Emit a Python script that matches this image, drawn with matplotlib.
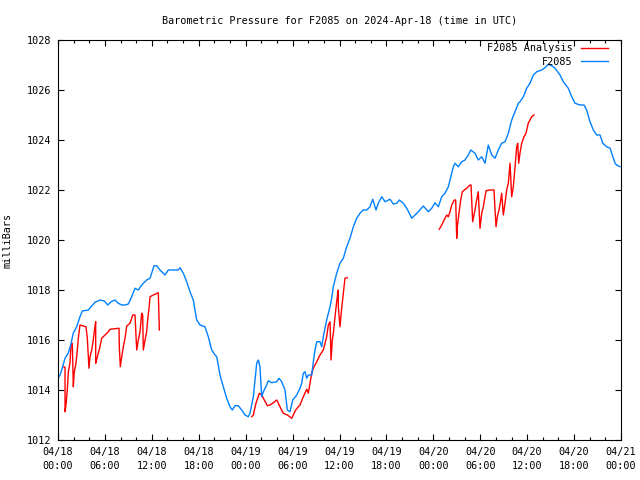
import numpy as np
import matplotlib
matplotlib.use("Agg")
from matplotlib import pyplot as plt
from matplotlib.ticker import MultipleLocator
from datetime import datetime, timedelta

# hours since 2024-04-18 00:00 UTC, pressure in mb
obs_hours = [0.00, 0.26, 0.47, 0.90, 1.32, 1.62, 1.96, 2.39, 2.81, 3.11, 3.88, 4.22, 4.73, 5.37,
             5.92, 6.36, 6.78, 7.29, 7.71, 8.15, 8.57, 8.99, 9.34, 9.85, 10.27, 10.70, 11.34,
             11.77, 12.28, 12.62, 13.04, 13.68, 14.11, 15.39, 15.60, 16.03, 16.46, 16.88, 17.30,
             17.74, 18.16, 18.80, 19.22, 19.66, 20.08, 20.30, 20.72, 21.14, 21.57, 22.00, 22.29,
             22.64, 23.06, 23.49, 23.92, 24.34, 24.55, 24.98, 25.41, 25.62, 25.83, 26.05, 26.26,
             26.69, 26.90, 27.33, 27.97, 28.26, 28.61, 29.03, 29.33, 29.67, 30.02, 30.53, 30.95,
             31.17, 31.37, 31.59, 31.81, 32.01, 32.45, 32.65, 32.87, 33.09, 33.51, 33.72, 33.93,
             34.36, 34.79, 35.00, 35.21, 35.64, 36.06, 36.49, 36.92, 37.34, 37.77, 38.20, 38.62,
             39.04, 39.48, 39.90, 40.25, 40.67, 40.96, 41.40, 41.82, 42.46, 42.88, 43.32, 43.65,
             44.16, 44.60, 44.93, 45.24, 45.66, 46.08, 46.72, 47.36, 47.79, 48.21, 48.64, 49.07,
             49.49, 49.92, 50.13, 50.56, 50.77, 51.19, 51.63, 52.05, 52.47, 52.78, 53.33, 53.75,
             54.19, 54.61, 55.03, 55.47, 55.89, 56.31, 56.74, 57.17, 57.59, 58.02, 58.45, 58.87,
             59.08, 59.51, 59.94, 60.36, 60.79, 61.22, 61.86, 62.28, 62.70, 63.14, 63.56, 64.20,
             64.62, 65.26, 65.70, 66.12, 66.76, 67.27, 67.61, 68.04, 68.46, 68.89, 69.32, 69.66,
             70.17, 70.60, 71.02, 71.24, 71.45, 71.87]
obs_mb = [1014.48, 1014.60, 1014.80, 1015.27, 1015.48, 1015.80, 1016.28, 1016.53, 1016.93, 1017.16,
          1017.20, 1017.33, 1017.51, 1017.60, 1017.56, 1017.40, 1017.53, 1017.60, 1017.47, 1017.40,
          1017.40, 1017.44, 1017.67, 1018.07, 1018.00, 1018.20, 1018.40, 1018.47, 1018.97, 1018.97,
          1018.80, 1018.60, 1018.80, 1018.80, 1018.89, 1018.67, 1018.33, 1017.93, 1017.60, 1016.80,
          1016.60, 1016.53, 1016.13, 1015.60, 1015.40, 1015.33, 1014.60, 1014.13, 1013.67, 1013.33,
          1013.20, 1013.37, 1013.37, 1013.20, 1013.00, 1012.93, 1013.07, 1013.73, 1015.07, 1015.20,
          1014.93, 1013.73, 1013.93, 1014.20, 1014.37, 1014.29, 1014.33, 1014.47, 1014.33, 1014.00,
          1013.20, 1013.13, 1013.60, 1013.80, 1014.07, 1014.27, 1014.67, 1014.73, 1014.47, 1014.60,
          1014.60, 1015.13, 1015.60, 1015.93, 1015.93, 1015.73, 1016.13, 1016.80, 1017.33, 1017.67,
          1018.13, 1018.67, 1019.07, 1019.27, 1019.73, 1020.07, 1020.53, 1020.87, 1021.07, 1021.20,
          1021.20, 1021.33, 1021.63, 1021.20, 1021.47, 1021.73, 1021.53, 1021.63, 1021.44, 1021.47,
          1021.60, 1021.47, 1021.27, 1021.07, 1020.87, 1021.00, 1021.13, 1021.36, 1021.13, 1021.27,
          1021.49, 1021.33, 1021.73, 1021.87, 1022.13, 1022.40, 1022.93, 1023.07, 1022.93, 1023.13,
          1023.20, 1023.40, 1023.60, 1023.47, 1023.20, 1023.33, 1023.07, 1023.80, 1023.40, 1023.27,
          1023.60, 1023.87, 1023.93, 1024.27, 1024.80, 1025.13, 1025.47, 1025.53, 1025.73, 1026.07,
          1026.27, 1026.60, 1026.73, 1026.80, 1026.89, 1027.03, 1026.97, 1026.87, 1026.60, 1026.33,
          1026.07, 1025.73, 1025.47, 1025.40, 1025.40, 1025.20, 1024.73, 1024.40, 1024.20, 1024.20,
          1023.87, 1023.73, 1023.67, 1023.27, 1023.07, 1023.00, 1022.93]

# analysis runs (three separate pieces)
ana1_hours = [0.68, 0.90, 0.90, 1.02, 1.19, 1.32, 1.53, 1.66, 1.83, 1.96, 2.08, 2.26, 2.39, 2.60,
              2.81, 3.24, 3.58, 3.75, 3.96, 4.09, 4.31, 4.51, 4.73, 4.82, 4.82, 4.99, 5.15, 5.37,
              5.59, 6.01, 6.43, 6.65, 7.80, 7.84, 7.97, 8.15, 8.35, 8.57, 8.79, 9.21, 9.43, 9.55,
              9.85, 9.98, 10.07, 10.27, 10.49, 10.70, 10.83, 10.91, 11.13, 11.34, 11.47, 11.64,
              11.77, 12.19, 12.83, 12.96]
ana1_mb = [1014.93, 1014.91, 1013.13, 1013.40, 1014.00, 1014.73, 1015.07, 1015.80, 1015.87, 1014.13,
           1014.73, 1015.00, 1015.33, 1016.07, 1016.60, 1016.56, 1016.53, 1016.07, 1014.87, 1015.33,
           1015.60, 1016.00, 1016.56, 1016.73, 1015.07, 1015.27, 1015.47, 1015.73, 1016.07, 1016.20,
           1016.33, 1016.43, 1016.47, 1015.73, 1014.93, 1015.33, 1015.73, 1016.07, 1016.56, 1016.67,
           1016.87, 1017.00, 1017.00, 1016.13, 1015.60, 1016.00, 1016.33, 1017.07, 1017.00, 1015.60,
           1016.00, 1016.33, 1016.80, 1017.27, 1017.73, 1017.80, 1017.89, 1016.40]

ana2_hours = [24.77, 24.98, 25.32, 25.74, 26.05, 26.77, 27.11, 27.53, 27.97, 28.39, 28.81, 29.33,
              29.89, 30.40, 30.73, 30.95, 31.37, 31.81, 32.01, 32.23, 32.45, 32.65, 33.09, 33.51,
              33.93, 34.36, 34.57, 34.79, 34.92, 35.08, 35.21, 35.52, 35.77, 35.85, 35.85, 36.06,
              36.28, 36.49, 36.70, 37.00]
ana2_mb = [1012.93, 1013.00, 1013.47, 1013.87, 1013.80, 1013.37, 1013.40, 1013.49, 1013.60, 1013.33,
           1013.07, 1013.00, 1012.87, 1013.20, 1013.33, 1013.40, 1013.73, 1014.03, 1013.87, 1014.27,
           1014.67, 1014.87, 1015.13, 1015.40, 1015.60, 1016.13, 1016.60, 1016.73, 1015.20, 1016.00,
           1016.27, 1017.20, 1017.87, 1018.00, 1017.33, 1016.53, 1017.27, 1017.87, 1018.47, 1018.49]

ana3_hours = [48.76, 49.07, 49.49, 49.71, 49.92, 50.13, 50.35, 50.68, 50.86, 50.99, 51.07, 51.28,
              51.50, 51.71, 51.96, 52.27, 52.69, 52.82, 53.03, 53.33, 53.54, 53.75, 53.97, 54.19,
              54.39, 54.74, 55.25, 55.76, 55.89, 56.02, 56.18, 56.40, 56.62, 56.74, 56.95, 57.17,
              57.38, 57.59, 57.81, 58.02, 58.23, 58.45, 58.66, 58.79, 58.92, 59.08, 59.30, 59.59,
              59.85, 60.14, 60.36, 60.58, 60.87]
ana3_mb = [1020.43, 1020.60, 1020.87, 1021.00, 1020.93, 1021.13, 1021.40, 1021.60, 1021.60, 1020.07,
           1020.53, 1021.07, 1021.60, 1021.93, 1022.00, 1022.07, 1022.20, 1022.20, 1020.73, 1021.20,
           1021.60, 1021.93, 1020.47, 1021.07, 1021.33, 1021.97, 1022.00, 1022.00, 1021.20, 1020.53,
           1020.93, 1021.20, 1021.60, 1021.87, 1021.00, 1021.47, 1022.00, 1022.27, 1023.07, 1021.73,
           1022.13, 1022.93, 1023.73, 1023.87, 1023.07, 1023.47, 1023.87, 1024.13, 1024.27, 1024.67,
           1024.80, 1024.93, 1025.00]

start = datetime(2024, 4, 18)
tick_hours = list(range(0, 73, 6))
tick_labels = [(start + timedelta(hours=h)).strftime("%m/%d\n%H:%M") for h in tick_hours]

plt.rcParams['font.family'] = ['DejaVu Sans Mono']
plt.rcParams['font.size'] = 7.3

fig = plt.figure(figsize=(6.4, 4.8), dpi=100)
ax = fig.add_axes([58/640, 40/480, 563/640, 400/480])

red = '#ff0000'
blue = '#0080ff'
ax.plot(ana1_hours, ana1_mb, color=red, lw=1, label='F2085 Analysis')
ax.plot(ana2_hours, ana2_mb, color=red, lw=1)
ax.plot(ana3_hours, ana3_mb, color=red, lw=1)
ax.plot(obs_hours, obs_mb, color=blue, lw=1, label='F2085')

ax.set_xlim(0, 72)
ax.set_ylim(1012, 1028)
ax.set_xticks(tick_hours)
ax.set_xticklabels(tick_labels, linespacing=1.5)
ax.xaxis.set_minor_locator(MultipleLocator(2))
ax.set_yticks(np.arange(1012, 1029, 2))
ax.tick_params(which='both', direction='in', top=True, right=True, width=0.8, pad=5)
ax.tick_params(which='major', length=4)
ax.tick_params(which='minor', length=2.5)
for s in ax.spines.values():
    s.set_linewidth(0.8)

ax.set_ylabel('milliBars', labelpad=10)
ax.set_title('Barometric Pressure for F2085 on 2024-Apr-18 (time in UTC)', fontsize=7.3, pad=11.5)

leg = ax.legend(loc='upper right', bbox_to_anchor=(1 - 7/563, 1 + 3/400), frameon=False,
                markerfirst=False, handlelength=2.7, borderaxespad=0.2, labelspacing=0.35,
                handletextpad=0.8)
for t in leg.get_texts():
    t.set_ha('right')

fig.savefig('out.png', dpi=100)
